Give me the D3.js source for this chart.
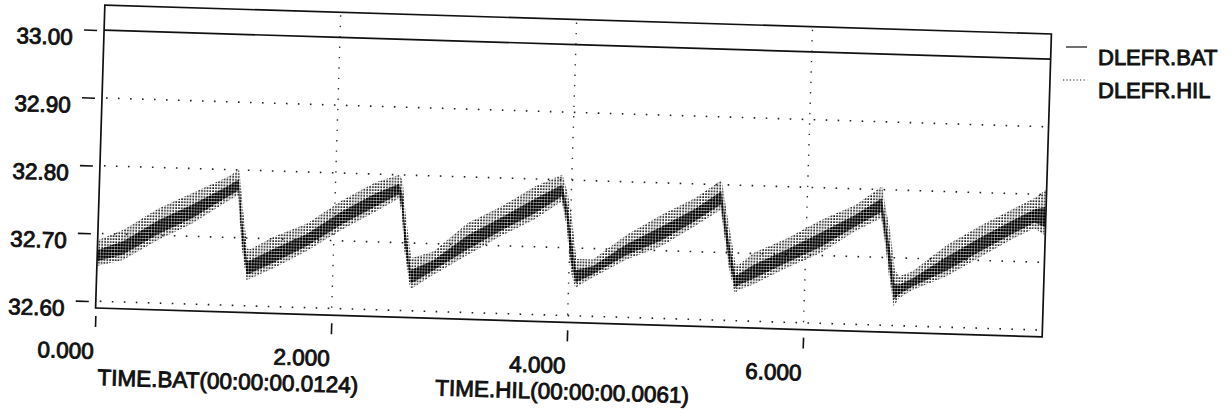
<!DOCTYPE html>
<html>
<head>
<meta charset="utf-8">
<script src="https://cdn.jsdelivr.net/npm/d3@7"></script>
<style>
  html, body { margin: 0; padding: 0; background: #fff; }
  svg { display: block; }
  text { font-family: "Liberation Sans", Arial, sans-serif; fill: #111; }
</style>
</head>
<body>
<svg id="chart" width="1232" height="412"></svg>
<script>
// ---------------- data ----------------
const seriesNames = ["DLEFR.BAT", "DLEFR.HIL"];
const axisTitles = ["TIME.BAT(00:00:00.0124)", "TIME.HIL(00:00:00.0061)"];

const yTicks = [32.60, 32.70, 32.80, 32.90, 33.00];
const yTickLabels = ["32.60", "32.70", "32.80", "32.90", "33.00"];
const xTicks = [0, 2, 4, 6];
const xTickLabels = ["0.000", "2.000", "4.000", "6.000"];

// DLEFR.BAT : flat line
const batTime = [0.00, 2.00, 4.00, 6.00, 8.025];
const batValue = [33.00, 33.00, 33.00, 33.00, 33.00];

// DLEFR.HIL : noisy sawtooth, read as upper / lower envelope of the band
const hilTime = [
  0.00, 0.22, 0.51, 0.79, 1.07, 1.18, 1.19, 1.22, 1.27,
  1.30, 1.49, 1.77, 2.06, 2.34, 2.54, 2.57, 2.60, 2.66,
  2.70, 2.85, 3.13, 3.41, 3.69, 3.92, 3.97, 4.01, 4.06,
  4.08, 4.20, 4.48, 4.77, 5.05, 5.27, 5.31, 5.35, 5.41,
  5.44, 5.56, 5.84, 6.13, 6.41, 6.63, 6.67, 6.71, 6.76,
  6.80, 6.91, 7.20, 7.48, 7.76, 7.93, 8.02
];
const hilHigh = [
  32.690, 32.707, 32.740, 32.764, 32.788, 32.800, 32.790, 32.745, 32.684,
  32.684, 32.703, 32.724, 32.760, 32.788, 32.800, 32.790, 32.745, 32.678,
  32.680, 32.689, 32.732, 32.758, 32.789, 32.808, 32.780, 32.745, 32.684,
  32.684, 32.684, 32.722, 32.753, 32.779, 32.807, 32.770, 32.735, 32.683,
  32.683, 32.701, 32.724, 32.753, 32.776, 32.805, 32.770, 32.740, 32.682,
  32.673, 32.681, 32.722, 32.752, 32.779, 32.795, 32.807
];
const hilLow = [
  32.652, 32.662, 32.693, 32.718, 32.751, 32.763, 32.740, 32.688, 32.638,
  32.640, 32.656, 32.683, 32.716, 32.744, 32.765, 32.740, 32.688, 32.632,
  32.636, 32.654, 32.684, 32.714, 32.740, 32.768, 32.730, 32.668, 32.640,
  32.644, 32.657, 32.685, 32.706, 32.737, 32.763, 32.720, 32.680, 32.640,
  32.646, 32.654, 32.680, 32.704, 32.737, 32.758, 32.720, 32.674, 32.628,
  32.640, 32.653, 32.675, 32.705, 32.734, 32.750, 32.740
];

// ---------------- layout ----------------
const svg = d3.select("#chart");
const x0 = 100, x1 = 1047, y0 = 19.5, y1 = 322.5;
const FS = 22.5;
const TSW = 0.9;

const x = d3.scaleLinear().domain([0, 8.025]).range([x0, x1]);
const y = d3.scaleLinear().domain([32.590, 33.037]).range([y1, y0]);

// patterns for the dense scanned band
const defs = svg.append("defs");
const pA = defs.append("pattern").attr("id", "dotsA")
  .attr("patternUnits", "userSpaceOnUse").attr("width", 2.8).attr("height", 3.0);
pA.append("rect").attr("x", 0.3).attr("y", 0.3).attr("width", 1.5).attr("height", 1.7).attr("fill", "#000");
const pB = defs.append("pattern").attr("id", "dotsB")
  .attr("patternUnits", "userSpaceOnUse").attr("width", 2.8).attr("height", 3.0);
pB.append("rect").attr("x", 0).attr("y", 0).attr("width", 2.4).attr("height", 2.5).attr("fill", "#000");

// whole scanned sheet is slightly rotated
const g = svg.append("g").attr("transform", "rotate(1.75, 573.5, 171)");

// grid
const grid = g.append("g");
grid.selectAll("line.h").data(yTicks.filter(v => v < 33)).enter().append("line")
  .attr("x1", x0 + 4).attr("x2", x1 - 4)
  .attr("y1", d => y(d)).attr("y2", d => y(d))
  .attr("stroke", "#222").attr("stroke-width", 1.6).attr("stroke-dasharray", "1.6 10.4");
grid.selectAll("line.v").data(xTicks.filter(v => v > 0)).enter().append("line")
  .attr("x1", d => x(d)).attr("x2", d => x(d))
  .attr("y1", y0 + 3).attr("y2", y1 - 3)
  .attr("stroke", "#333").attr("stroke-width", 1.4).attr("stroke-dasharray", "1.4 9");

// HIL band
const hil = hilTime.map((t, i) => ({ t, hi: hilHigh[i], lo: hilLow[i] }));
const band = d3.area().x(d => x(d.t)).y0(d => y(d.lo)).y1(d => y(d.hi));
g.append("path").datum(hil).attr("d", band).attr("fill", "url(#dotsA)");
const core = d3.area().x(d => x(d.t))
  .y0(d => y(d.lo + 0.18 * (d.hi - d.lo)))
  .y1(d => y(d.lo + 0.62 * (d.hi - d.lo)));
g.append("path").datum(hil).attr("d", core).attr("fill", "url(#dotsB)");

// BAT line
const bat = batTime.map((t, i) => ({ t, v: batValue[i] }));
g.append("path").datum(bat)
  .attr("d", d3.line().x(d => x(d.t)).y(d => y(d.v)))
  .attr("fill", "none").attr("stroke", "#111").attr("stroke-width", 1.7);

// frame
g.append("rect").attr("x", x0).attr("y", y0).attr("width", x1 - x0).attr("height", y1 - y0)
  .attr("fill", "none").attr("stroke", "#111").attr("stroke-width", 1.7);

// y axis (ticks detached from frame)
const yAxis = g.append("g").attr("transform", `translate(${x0 - 7},0)`)
  .call(d3.axisLeft(y).tickValues(yTicks).tickFormat((d, i) => yTickLabels[i]).tickSize(13).tickPadding(11));
yAxis.select(".domain").remove();
yAxis.selectAll(".tick line").attr("stroke", "#111").attr("stroke-width", 1.6);
yAxis.selectAll(".tick text").attr("font-size", FS).attr("font-family", "Liberation Sans, Arial, sans-serif")
  .attr("fill", "#111").attr("stroke", "#111").attr("stroke-width", TSW)
  .attr("dy", "0.52em").attr("y", 3.5);

// x axis (ticks detached from frame, labels right-aligned to tick)
const xAxis = g.append("g").attr("transform", `translate(0,${y1 + 8})`)
  .call(d3.axisBottom(x).tickValues(xTicks).tickFormat((d, i) => xTickLabels[i]).tickSize(11));
xAxis.select(".domain").remove();
xAxis.selectAll(".tick line").attr("stroke", "#111").attr("stroke-width", 1.6);
xAxis.selectAll(".tick text").attr("font-size", FS).attr("font-family", "Liberation Sans, Arial, sans-serif")
  .attr("fill", "#111").attr("stroke", "#111").attr("stroke-width", TSW)
  .attr("text-anchor", "end").attr("x", -1).attr("y", 43).attr("dy", 0);

// axis titles
const titlePos = [x0 + 4, x0 + 342];
g.selectAll("text.atitle").data(axisTitles).enter().append("text")
  .attr("class", "atitle")
  .attr("x", (d, i) => titlePos[i]).attr("y", y1 + 77)
  .attr("font-size", FS).attr("stroke", "#111").attr("stroke-width", TSW)
  .text(d => d);

// legend (not rotated)
const leg = svg.append("g");
const legY = [47, 80];
leg.selectAll("line").data(seriesNames).enter().append("line")
  .attr("x1", (d, i) => i === 0 ? 1066 : 1063).attr("x2", (d, i) => i === 0 ? 1087 : 1085)
  .attr("y1", (d, i) => legY[i]).attr("y2", (d, i) => legY[i])
  .attr("stroke", "#222").attr("stroke-width", (d, i) => i === 0 ? 1.3 : 1.2)
  .attr("stroke-dasharray", (d, i) => i === 0 ? null : "1.2 2.2");
leg.selectAll("text").data(seriesNames).enter().append("text")
  .attr("x", 1098).attr("y", (d, i) => legY[i] + 18)
  .attr("font-size", 22).attr("stroke", "#111").attr("stroke-width", TSW)
  .text(d => d);
</script>
</body>
</html>
